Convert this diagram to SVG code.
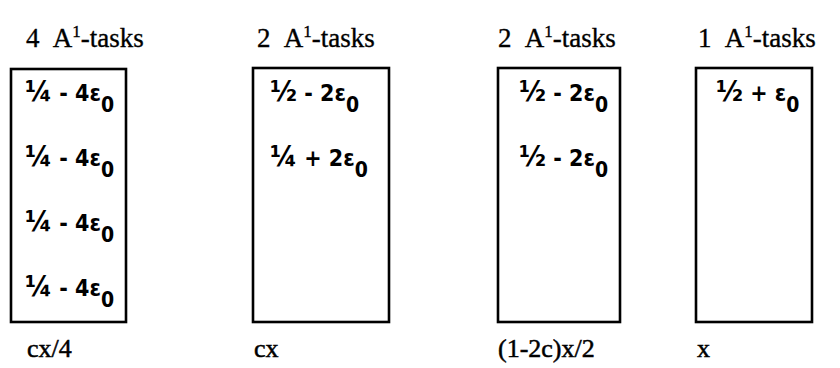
<svg xmlns="http://www.w3.org/2000/svg" width="840" height="368" viewBox="0 0 840 368">
<style>
.box{fill:none;stroke:#000;stroke-width:2.6}
.ttl{font-family:"Liberation Serif",serif;font-size:27px;fill:#000;stroke:#000;stroke-width:0.35;word-spacing:8px}
.sup{font-size:17px}
.val{font-family:"DejaVu Sans Condensed","DejaVu Sans",sans-serif;font-weight:bold;font-size:23px;fill:#000}
.fr{font-size:29px}
.sub{font-size:21px}
.lbl{font-family:"Liberation Serif",serif;font-size:26px;fill:#000;stroke:#000;stroke-width:0.5}
</style>
<rect width="840" height="368" fill="#fff"/>
<g id="col1">
<text class="ttl" x="26" y="47">4 A<tspan class="sup" dy="-10">1</tspan><tspan dy="10">-tasks</tspan></text>
<rect class="box" x="11" y="69" width="115" height="253"/>
<text class="val" x="25" y="101"><tspan class="fr">¼</tspan> - 4ε<tspan class="sub" dy="11">0</tspan></text>
<text class="val" x="25" y="166"><tspan class="fr">¼</tspan> - 4ε<tspan class="sub" dy="11">0</tspan></text>
<text class="val" x="25" y="231"><tspan class="fr">¼</tspan> - 4ε<tspan class="sub" dy="11">0</tspan></text>
<text class="val" x="25" y="296"><tspan class="fr">¼</tspan> - 4ε<tspan class="sub" dy="11">0</tspan></text>
<text class="lbl" x="27" y="357">cx/4</text>
</g>
<g id="col2">
<text class="ttl" x="257" y="47">2 A<tspan class="sup" dy="-10">1</tspan><tspan dy="10">-tasks</tspan></text>
<rect class="box" x="253" y="68" width="136" height="254"/>
<text class="val" x="270" y="101"><tspan class="fr">½</tspan> - 2ε<tspan class="sub" dy="11">0</tspan></text>
<text class="val" x="270" y="166"><tspan class="fr">¼</tspan> + 2ε<tspan class="sub" dy="11">0</tspan></text>
<text class="lbl" x="254" y="357">cx</text>
</g>
<g id="col3">
<text class="ttl" x="498" y="47">2 A<tspan class="sup" dy="-10">1</tspan><tspan dy="10">-tasks</tspan></text>
<rect class="box" x="498" y="68" width="122" height="254"/>
<text class="val" x="519" y="101"><tspan class="fr">½</tspan> - 2ε<tspan class="sub" dy="11">0</tspan></text>
<text class="val" x="519" y="166"><tspan class="fr">½</tspan> - 2ε<tspan class="sub" dy="11">0</tspan></text>
<text class="lbl" x="498" y="357">(1-2c)x/2</text>
</g>
<g id="col4">
<text class="ttl" x="698" y="47">1 A<tspan class="sup" dy="-10">1</tspan><tspan dy="10">-tasks</tspan></text>
<rect class="box" x="696" y="68" width="116" height="254"/>
<text class="val" x="716" y="101"><tspan class="fr">½</tspan> + ε<tspan class="sub" dy="11">0</tspan></text>
<text class="lbl" x="697" y="357">x</text>
</g>
<g id="connectors"></g>
</svg>
